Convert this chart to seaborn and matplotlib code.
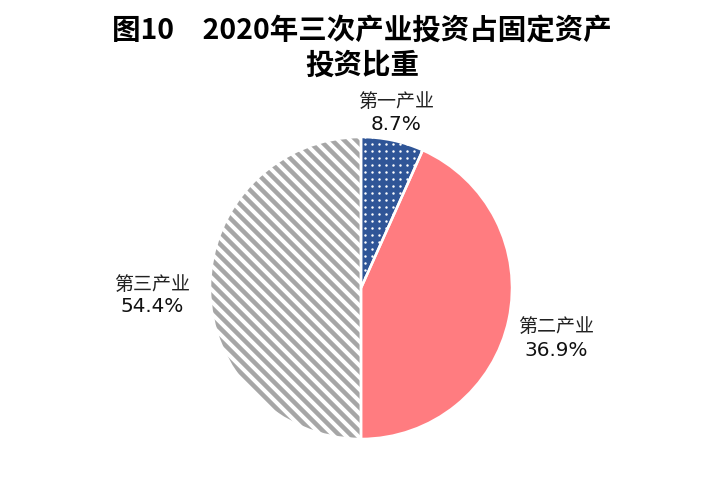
import matplotlib
matplotlib.use("Agg")
import matplotlib.pyplot as plt
import numpy as np
import seaborn as sns

# Data
categories = ["第一产业", "第二产业", "第三产业"]
label_pct = ["8.7%", "36.9%", "54.4%"]
# slice sizes as drawn in the reference picture
shares = [6.7, 43.3, 50.0]
colors = ["#2F5597", "#FF7C80", "#FFFFFF"]

sns.set_theme(style="white")
plt.rcParams["font.family"] = ["Noto Sans CJK SC", "DejaVu Sans"]
plt.rcParams["hatch.linewidth"] = 4.5

DPI = 72
fig = plt.figure(figsize=(720 / DPI, 485 / DPI), dpi=DPI)
fig.patch.set_facecolor("white")
ax = fig.add_axes([0, 0, 1, 1])

R = 151.0
cx, cy = 361.0, 288.0

wedges, _ = ax.pie(shares, colors=colors, startangle=90, counterclock=False,
                   radius=1.0, wedgeprops=dict(linewidth=0))
# grey stripes on the third slice
wedges[2].set_hatch("\\\\")
wedges[2].set_edgecolor("#A6A6A6")

# white dot pattern on the first slice
step = 7.0 / R
gx, gy = np.meshgrid(np.arange(-1.2, 1.2, step), np.arange(-1.2, 1.2, step))
dots = ax.scatter(gx.ravel() + step / 2, gy.ravel() + step / 2, s=6, color="white",
                  linewidths=0, zorder=3)
dots.set_clip_path(wedges[0])

# white separators
ax.pie(shares, colors=["none"] * 3, startangle=90, counterclock=False,
       radius=1.0, wedgeprops=dict(linewidth=2.5, edgecolor="white", fill=False, zorder=4))

ax.set_aspect("auto")
ax.set_xlim(-cx / R, (720 - cx) / R)
ax.set_ylim(-(485 - cy) / R, cy / R)
ax.axis("off")

def px(x, y):
    return (x - cx) / R, (cy - y) / R

label_pos = [(396, 101, 124), (556, 326, 350), (152, 284, 307)]
for cat, pct, (x, y1, y2) in zip(categories, label_pct, label_pos):
    ax.text(*px(x, y1), cat, ha="center", va="center", fontsize=19, color="#222222")
    ax.text(*px(x, y2), pct, ha="center", va="center", fontsize=20, color="#111111",
            family=["DejaVu Sans"])

fig.text(362 / 720, 1 - 31 / 485, "图10　2020年三次产业投资占固定资产", ha="center", va="center",
         fontsize=28.5, fontweight="bold", color="black")
fig.text(362 / 720, 1 - 66 / 485, "投资比重", ha="center", va="center",
         fontsize=28.5, fontweight="bold", color="black")

fig.savefig("out.png", dpi=DPI, facecolor="white")
